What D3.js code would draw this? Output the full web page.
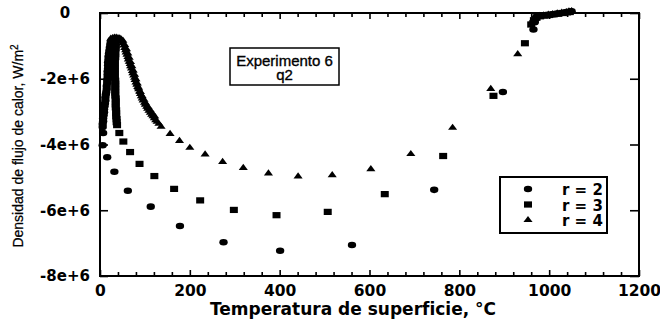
<!DOCTYPE html>
<html lang="es">
<head>
<meta charset="utf-8">
<title>Experimento 6 - q2</title>
<script src="https://cdn.jsdelivr.net/npm/d3@7/dist/d3.min.js"></script>
<style>
  body { margin: 0; background: #fff; }
  svg { display: block; }
  .axis path.domain { display: none; }
  .axis line { stroke: #000; stroke-width: 1.6; }
  .axis text { font: bold 15.5px "DejaVu Sans", sans-serif; fill: #000; }
  .axis.y text { font-size: 15px; }
  .frame { fill: none; stroke: #000; stroke-width: 2; }
  .title { font: bold 17px "DejaVu Sans", sans-serif; fill: #000; }
  .ytitle { font: 14px "Liberation Sans", Arial, sans-serif; fill: #000; stroke: #000; stroke-width: 0.25; }
  .note { font: 15px "Liberation Sans", Arial, sans-serif; fill: #000; stroke: #000; stroke-width: 0.35; }
  .legend text { font: bold 15px "DejaVu Sans", sans-serif; fill: #000; }
  .box { fill: #fff; stroke: #000; }
</style>
</head>
<body>
<script>
// temperatura (°C), densidad de flujo (x 1e6 W/m2)
var r2 = [
  [6,-3.47],[6,-3.38],[7,-3.29],[7,-3.20],[8,-3.11],[9,-3.02],[9,-2.93],[10,-2.84],
  [11,-2.75],[12,-2.66],[12,-2.57],[13,-2.48],[14,-2.40],[15,-2.31],[15,-2.22],[16,-2.13],
  [16,-2.04],[17,-1.95],[17,-1.86],[17,-1.77],[18,-1.68],[18,-1.59],[18,-1.50],[19,-1.41],
  [19,-1.32],[20,-1.23],[21,-1.14],[22,-1.05],[23,-0.96],[24,-0.88],[26,-0.82],
  [7,-3.65],[6,-4.02],[16,-4.39],[32,-4.83],[62,-5.41],[113,-5.89],[178,-6.48],
  [275,-6.97],[401,-7.23],[561,-7.06],[744,-5.38],[897,-2.40],[965,-0.50],
  [968,-0.28],[970,-0.18],[973,-0.10],[978,-0.08],[986,-0.07],[994,-0.06],[1002,-0.05],
  [1010,-0.04],[1018,-0.02],[1026,-0.01],[1034,0.01],[1040,0.03],[1046,0.04],[1050,0.05]
];
var r3 = [
  [38,-3.41],[37,-3.32],[37,-3.23],[36,-3.14],[36,-3.05],[36,-2.96],[35,-2.87],[35,-2.78],
  [35,-2.69],[35,-2.60],[34,-2.51],[34,-2.42],[34,-2.33],[34,-2.24],[34,-2.15],[34,-2.06],
  [33,-1.97],[33,-1.88],[33,-1.79],[33,-1.70],[33,-1.61],[33,-1.52],[33,-1.43],[34,-1.34],
  [34,-1.25],[34,-1.16],[35,-1.07],[35,-0.98],[35,-0.89],[36,-0.81],
  [43,-3.65],[52,-3.91],[67,-4.23],[88,-4.59],[121,-4.96],[165,-5.35],[223,-5.70],
  [298,-5.99],[393,-6.15],[507,-6.05],[634,-5.51],[764,-4.35],[876,-2.52],[946,-0.92],
  [960,-0.35],[966,-0.22],[972,-0.14],[980,-0.10],[990,-0.08],[1000,-0.06],[1010,-0.04],
  [1020,-0.02],[1030,0.00],[1040,0.02],[1046,0.03]
];
var r4 = [
  [24,-0.78],[28,-0.76],[32,-0.75],[36,-0.75],[40,-0.76],[44,-0.77],[47,-0.80],[49,-0.86],
  [51,-0.92],[53,-0.99],[55,-1.06],[57,-1.13],[58,-1.20],[60,-1.27],[62,-1.34],[63,-1.41],
  [65,-1.48],[67,-1.55],[68,-1.62],[70,-1.69],[72,-1.76],[73,-1.83],[75,-1.90],[77,-1.97],
  [78,-2.04],[80,-2.11],[82,-2.18],[84,-2.25],[86,-2.32],[88,-2.39],[90,-2.46],[92,-2.53],
  [94,-2.60],[96,-2.66],[99,-2.73],[101,-2.79],[104,-2.85],[106,-2.91],[109,-2.97],[112,-3.03],
  [115,-3.09],[118,-3.14],[121,-3.20],[124,-3.26],[127,-3.31],[131,-3.37],
  [51,-0.84],[55,-0.97],[59,-1.10],[62,-1.23],[65,-1.36],[68,-1.49],[71,-1.62],[74,-1.75],
  [77,-1.88],[80,-2.01],[83,-2.14],[86,-2.27],[90,-2.40],[94,-2.53],[98,-2.64],[102,-2.75],
  [107,-2.86],[112,-2.96],[117,-3.06],[122,-3.15],
  [136,-3.46],[156,-3.68],[177,-3.89],[200,-4.10],[234,-4.30],[273,-4.53],[319,-4.71],
  [375,-4.88],[441,-4.97],[517,-4.93],[603,-4.75],[692,-4.29],[785,-3.49],[870,-2.31],[930,-1.25],
  [964,-0.20],[970,-0.12],[978,-0.09],[988,-0.07],[998,-0.05],[1008,-0.03],[1018,-0.01],
  [1028,0.01],[1038,0.03],[1044,0.05],[1050,0.06]
];
var seriesNames = ["r = 2", "r = 3", "r = 4"];
var xTicks = [0, 200, 400, 600, 800, 1000, 1200];
var xTickLabels = ["0", "200", "400", "600", "800", "1000", "1200"];
var yTicks = [-8e6, -6e6, -4e6, -2e6, 0];
var yTickLabels = ["-8e+6", "-6e+6", "-4e+6", "-2e+6", "0"];
var noteLines = ["Experimento 6", "q2"];

var W = 660, H = 319;
var x = d3.scaleLinear().domain([0, 1200]).range([100, 639]);
var y = d3.scaleLinear().domain([-8e6, 0]).range([276, 13]);
var xMinor = d3.range(0, 1201, 40).filter(function(v) { return v % 200 !== 0; });

var svg = d3.select("body").append("svg").attr("width", W).attr("height", H);

// ejes
svg.append("g").attr("class", "axis x").attr("transform", "translate(0,276)")
  .call(d3.axisBottom(x).tickValues(xTicks).tickSize(-6).tickSizeOuter(0).tickPadding(9)
    .tickFormat(function(d, i) { return xTickLabels[i]; }));
svg.append("g").attr("class", "axis x minor").attr("transform", "translate(0,276)")
  .call(d3.axisBottom(x).tickValues(xMinor).tickSize(-4).tickSizeOuter(0).tickFormat(""));
svg.append("g").attr("class", "axis x").attr("transform", "translate(0,13)")
  .call(d3.axisTop(x).tickValues(xTicks).tickSize(-6).tickSizeOuter(0).tickFormat(""));
svg.append("g").attr("class", "axis x minor").attr("transform", "translate(0,13)")
  .call(d3.axisTop(x).tickValues(xMinor).tickSize(-4).tickSizeOuter(0).tickFormat(""));
var yAxisG = svg.append("g").attr("class", "axis y").attr("transform", "translate(100,0)")
  .call(d3.axisLeft(y).tickValues(yTicks).tickSize(-8).tickSizeOuter(0).tickPadding(9)
    .tickFormat(function(d, i) { return yTickLabels[i]; }));
yAxisG.selectAll(".tick text").attr("text-anchor", "middle").attr("x", -35);
svg.append("g").attr("class", "axis y").attr("transform", "translate(639,0)")
  .call(d3.axisRight(y).tickValues(yTicks).tickSize(-9).tickSizeOuter(0).tickFormat(""));

svg.append("rect").attr("class", "frame")
  .attr("x", x(0)).attr("y", y(0))
  .attr("width", x(1200) - x(0)).attr("height", y(-8e6) - y(0));

// titulos
svg.append("text").attr("class", "title")
  .attr("x", 353).attr("y", 315).attr("text-anchor", "middle")
  .text("Temperatura de superficie, °C");

var yt = svg.append("text").attr("class", "ytitle")
  .attr("transform", "translate(23,146) rotate(-90)").attr("text-anchor", "middle");
yt.append("tspan").text("Densidad de flujo de calor, W/m");
yt.append("tspan").attr("dy", -5).style("font-size", "10px").text("2");

// nota
svg.append("rect").attr("class", "box").attr("stroke-width", 1.5)
  .attr("x", 230).attr("y", 48).attr("width", 109).attr("height", 37);
svg.selectAll("text.note").data(noteLines).enter().append("text")
  .attr("class", "note").attr("x", 284.5).attr("text-anchor", "middle")
  .attr("y", function(d, i) { return 65.5 + i * 14; })
  .text(function(d) { return d; });

// puntos
var symbols = [
  d3.symbol().type(d3.symbolCircle).size(55),
  d3.symbol().type(d3.symbolSquare).size(64),
  d3.symbol().type(d3.symbolTriangle).size(36)
];
var allSeries = [r2, r3, r4];

allSeries.forEach(function(data, k) {
  svg.append("g").selectAll("path").data(data).enter().append("path")
    .attr("d", symbols[k]())
    .attr("fill", "#000")
    .attr("transform", function(d) {
      return "translate(" + x(d[0]) + "," + y(d[1] * 1e6) + ") scale(1,0.78)";
    });
});

// leyenda
var leg = svg.append("g").attr("class", "legend");
leg.append("rect").attr("class", "box").attr("stroke-width", 2)
  .attr("x", 500).attr("y", 177).attr("width", 107).attr("height", 56);
var rows = leg.selectAll("g.row").data(seriesNames).enter().append("g")
  .attr("class", "row")
  .attr("transform", function(d, i) { return "translate(0," + (189 + i * 15.5) + ")"; });
rows.append("path")
  .attr("d", function(d, i) { return symbols[i](); })
  .attr("fill", "#000")
  .attr("transform", "translate(528,0) scale(1,0.78)");
rows.append("text").attr("x", 562).attr("y", 6).text(function(d) { return d; });
</script>
</body>
</html>
